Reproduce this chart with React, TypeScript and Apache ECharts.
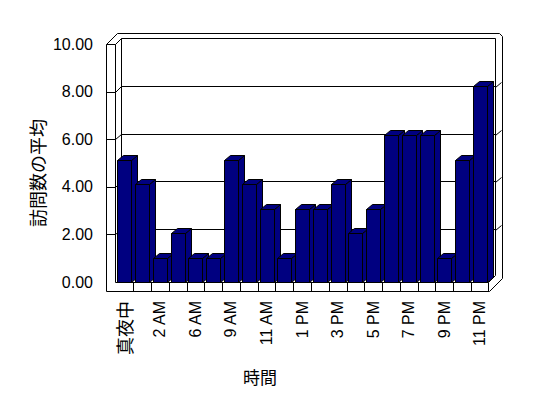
import React, { useEffect, useRef } from "react";
import * as echarts from "echarts";

// ---- data ----
const categories = [
  "真夜中", "1 AM", "2 AM", "3 AM", "6 AM", "8 AM", "9 AM", "10 AM", "11 AM", "正午",
  "1 PM", "2 PM", "3 PM", "4 PM", "5 PM", "6 PM", "7 PM", "8 PM", "9 PM", "10 PM", "11 PM",
];
const visits = [5, 4, 1, 2, 1, 1, 5, 4, 3, 1, 3, 3, 4, 2, 3, 6, 6, 6, 1, 5, 8];
const gridTicks = [2, 4, 6, 8];
const yTitle = "訪問数の平均";
const xTitle = "時間";

const LATIN = "'Liberation Sans', Arial, sans-serif";
const CJK = "'Noto Sans CJK JP', sans-serif";

// frame geometry (decoration)
const frontY = (v: number) => Math.round(282 - v * 23.8) + 0.5;
const backY = (v: number) => Math.round(277 - v * 23.9) + 0.5;
const GRID_LEFT = 115.4;
const GRID_W = 373.4;

function buildGraphic() {
  const line = { stroke: "#000", lineWidth: 1, fill: "none" };
  const back: any[] = [];
  const front: any[] = [];
  back.push({
    type: "polyline",
    z: 0,
    shape: { points: [[121.5, 277.5], [121.5, 38.5], [495.5, 38.5], [495.5, 275.5]] },
    style: line,
  });
  gridTicks.forEach((v) => {
    const fy = frontY(v);
    const by = backY(v);
    back.push({
      type: "polyline",
      z: 0,
      shape: { points: [[106.5, fy], [115.5, fy], [121.5, by], [495.5, by]] },
      style: line,
    });
    back.push({
      type: "line",
      z: 0,
      shape: { x1: 495.5, y1: by + 1, x2: 501.5, y2: by - 4 },
      style: line,
    });
  });
  front.push({
    type: "polyline",
    z: 10,
    shape: {
      points: [
        [106.5, 291.5], [106.5, 44.5], [117.5, 33.5], [499.5, 33.5], [502.5, 36.5],
        [502.5, 278.5], [489.5, 291.5], [106.5, 291.5],
      ],
    },
    style: line,
  });
  front.push({
    type: "polyline",
    z: 10,
    shape: { points: [[106.5, 44.5], [115.5, 44.5], [121.5, 38.5]] },
    style: line,
  });
  front.push({
    type: "line",
    z: 10,
    shape: { x1: 115.5, y1: 44.5, x2: 115.5, y2: 282.5 },
    style: line,
  });
  front.push({
    type: "polyline",
    z: 10,
    shape: { points: [[115.5, 282.5], [488.5, 282.5], [495.5, 275.5]] },
    style: line,
  });
  front.push({
    type: "line",
    z: 10,
    shape: { x1: 488.5, y1: 282.5, x2: 488.5, y2: 291.5 },
    style: line,
  });
  const step = GRID_W / categories.length;
  for (let k = 1; k < categories.length; k++) {
    const x = Math.round(GRID_LEFT + k * step) + 0.5;
    front.push({
      type: "line",
      z: 10,
      shape: { x1: x, y1: 282.5, x2: x, y2: 291.5 },
      style: line,
    });
  }
  front.push({
    type: "text",
    z: 10,
    x: 36.5,
    y: 173,
    rotation: Math.PI / 2,
    style: {
      text: yTitle,
      fill: "#000",
      font: `18px ${CJK}`,
      textAlign: "center",
      textVerticalAlign: "middle",
    },
  });
  front.push({
    type: "text",
    z: 10,
    x: 260,
    y: 376,
    style: {
      text: xTitle,
      fill: "#000",
      font: `17px ${CJK}`,
      textAlign: "center",
      textVerticalAlign: "middle",
    },
  });
  return [...back, ...front];
}

export default function App() {
  const ref = useRef<HTMLDivElement>(null);
  useEffect(() => {
    document.body.style.margin = "0";
    if (!ref.current) return;
    const chart = echarts.init(ref.current, null, { renderer: "svg" });
    const option: any = {
      animation: false,
      backgroundColor: "#ffffff",
      grid: [
        { left: GRID_LEFT, top: 37.4, width: GRID_W, height: 244.6 },
        { left: 106, top: 44, width: 382, height: 238 },
      ],
      xAxis: [
        {
          type: "category",
          gridIndex: 0,
          data: categories,
          axisLine: { show: false },
          axisTick: { show: false },
          splitLine: { show: false },
          axisLabel: {
            interval: 1,
            rotate: 90,
            margin: 19,
            color: "#000",
            fontSize: 16,
            fontFamily: LATIN,
            formatter: (v: string) => (/[^\x00-\x7F]/.test(v) ? `{c|${v}}` : v),
            rich: { c: { fontSize: 18, fontFamily: CJK, color: "#000" } },
          },
        },
        { type: "value", gridIndex: 1, show: false, min: 0, max: 1 },
      ],
      yAxis: [
        { type: "value", gridIndex: 0, min: 0, max: 10, show: false },
        {
          type: "value",
          gridIndex: 1,
          min: 0,
          max: 10,
          interval: 2,
          axisLine: { show: false },
          axisTick: { show: false },
          splitLine: { show: false },
          axisLabel: {
            margin: 13,
            color: "#000",
            fontSize: 16,
            fontFamily: LATIN,
            formatter: (v: number) => v.toFixed(2),
          },
        },
      ],
      series: [
        {
          type: "custom",
          xAxisIndex: 0,
          yAxisIndex: 0,
          z: 2,
          data: visits.map((v, i) => [i, v]),
          renderItem: (params: any, api: any) => {
            const i = api.value(0);
            const v = api.value(1);
            const top = api.coord([i, v]);
            const base = api.coord([i, 0]);
            const x0 = Math.round(top[0] - 7) + 0.5;
            const x1 = x0 + 14;
            const yt = Math.round(top[1]) + 0.5;
            const yb = Math.round(base[1]) + 0.5;
            const dx = 6;
            const dy = -5;
            const style = { fill: "#000080", stroke: "#000", lineWidth: 1 };
            return {
              type: "group",
              children: [
                {
                  type: "polygon",
                  shape: { points: [[x1, yb], [x1, yt], [x1 + dx, yt + dy], [x1 + dx, yb + dy]] },
                  style,
                },
                {
                  type: "polygon",
                  shape: { points: [[x0, yt], [x0 + dx, yt + dy], [x1 + dx, yt + dy], [x1, yt]] },
                  style,
                },
                {
                  type: "rect",
                  shape: { x: x0, y: yt, width: x1 - x0, height: yb - yt },
                  style,
                },
              ],
            };
          },
        },
      ],
      graphic: { elements: buildGraphic() },
    };
    chart.setOption(option);
    return () => chart.dispose();
  }, []);
  return <div ref={ref} style={{ width: 548, height: 398 }} />;
}
